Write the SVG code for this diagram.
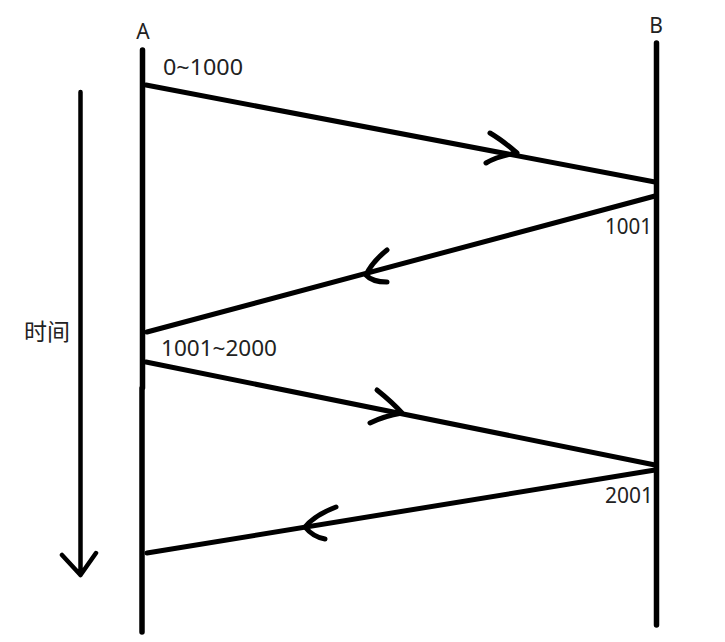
<svg xmlns="http://www.w3.org/2000/svg" width="725" height="642" viewBox="0 0 725 642">
  <style>
    .bg { fill: #ffffff; }
    .life { stroke: #000; stroke-width: 5.5; stroke-linecap: round; fill: none; }
    .msg { stroke: #000; stroke-width: 5; stroke-linecap: round; fill: none; }
    .chev { stroke: #000; stroke-width: 5; stroke-linecap: round; stroke-linejoin: round; fill: none; }
    .time { stroke: #000; stroke-width: 4.5; stroke-linecap: round; stroke-linejoin: round; fill: none; }
    .lbl { font-family: "Noto Sans", "Liberation Sans", sans-serif; font-size: 21px; fill: #222; }
    .cjk { font-family: "Noto Sans CJK SC", "Noto Sans", sans-serif; font-size: 23px; fill: #222; }
  </style>
  <rect class="bg" x="0" y="0" width="725" height="642"/>

  <g id="node-A">
    <path class="life" d="M142.5 50 L142.5 388 M142 388 L142 632"/>
    <text class="lbl" x="143" y="39" text-anchor="middle">A</text>
  </g>

  <g id="node-B">
    <path class="life" d="M656.5 43 L656.5 625"/>
    <text class="lbl" x="656" y="33" text-anchor="middle">B</text>
  </g>

  <g id="time-axis">
    <path class="time" d="M80.5 92 L80.5 575 M62 555 L80.5 575 L96 553"/>
    <text class="cjk" x="24" y="340">时间</text>
  </g>

  <g id="connectors">
    <path class="msg" d="M146 85 L655 182"/>
    <path class="chev" d="M490 133 Q502 140 517 153 Q498 156 486 163"/>
    <text class="lbl" x="163" y="75" textLength="80" lengthAdjust="spacingAndGlyphs">0~1000</text>

    <path class="msg" d="M655 196 L147 332"/>
    <path class="chev" d="M387 250 Q372 262 366 275 Q372 282 387 282"/>
    <text class="lbl" x="605" y="234" textLength="47" lengthAdjust="spacingAndGlyphs">1001</text>

    <path class="msg" d="M146 362 L655 465"/>
    <path class="chev" d="M377 390 Q392 402 402 413 Q384 416 370 423"/>
    <text class="lbl" x="161" y="356" textLength="116" lengthAdjust="spacingAndGlyphs">1001~2000</text>

    <path class="msg" d="M655 470 L147 553"/>
    <path class="chev" d="M336 507 Q315 515 305 527 Q313 537 325 539"/>
    <text class="lbl" x="605" y="503" textLength="48" lengthAdjust="spacingAndGlyphs">2001</text>
  </g>
</svg>
